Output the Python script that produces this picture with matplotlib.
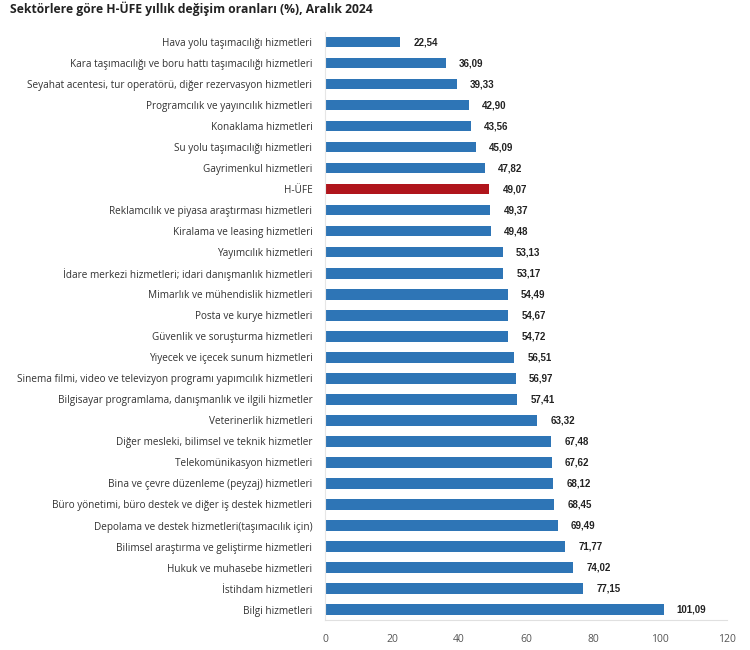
import matplotlib
matplotlib.use("Agg")
import matplotlib.pyplot as plt

categories = [
    "Hava yolu taşımacılığı hizmetleri",
    "Kara taşımacılığı ve boru hattı taşımacılığı hizmetleri",
    "Seyahat acentesi, tur operatörü, diğer rezervasyon hizmetleri",
    "Programcılık ve yayıncılık hizmetleri",
    "Konaklama hizmetleri",
    "Su yolu taşımacılığı hizmetleri",
    "Gayrimenkul hizmetleri",
    "H-ÜFE",
    "Reklamcılık ve piyasa araştırması hizmetleri",
    "Kiralama ve leasing hizmetleri",
    "Yayımcılık hizmetleri",
    "İdare merkezi hizmetleri; idari danışmanlık hizmetleri",
    "Mimarlık ve mühendislik hizmetleri",
    "Posta ve kurye hizmetleri",
    "Güvenlik ve soruşturma hizmetleri",
    "Yiyecek ve içecek sunum hizmetleri",
    "Sinema filmi, video ve televizyon programı yapımcılık hizmetleri",
    "Bilgisayar programlama, danışmanlık ve ilgili hizmetler",
    "Veterinerlik hizmetleri",
    "Diğer mesleki, bilimsel ve teknik hizmetler",
    "Telekomünikasyon hizmetleri",
    "Bina ve çevre düzenleme (peyzaj) hizmetleri",
    "Büro yönetimi, büro destek ve diğer iş destek hizmetleri",
    "Depolama ve destek hizmetleri(taşımacılık için)",
    "Bilimsel araştırma ve geliştirme hizmetleri",
    "Hukuk ve muhasebe hizmetleri",
    "İstihdam hizmetleri",
    "Bilgi hizmetleri",
]
values = [22.54, 36.09, 39.33, 42.90, 43.56, 45.09, 47.82, 49.07, 49.37, 49.48,
          53.13, 53.17, 54.49, 54.67, 54.72, 56.51, 56.97, 57.41, 63.32, 67.48,
          67.62, 68.12, 68.45, 69.49, 71.77, 74.02, 77.15, 101.09]
highlight = "H-ÜFE"
xticks = [0, 20, 40, 60, 80, 100, 120]

plt.rcParams['font.family'] = ['Open Sans', 'DejaVu Sans']

fig = plt.figure(figsize=(7.5, 6.5), dpi=100)
ax = fig.add_axes([0.4333, 0.046, 0.536, 0.9055])

colors = ["#b0151c" if c == highlight else "#2e75b6" for c in categories]
y = list(range(len(categories)))
ax.barh(y, values, height=0.5, color=colors, edgecolor="none")
ax.set_ylim(len(categories) - 0.5, -0.5)
ax.set_xlim(0, 120)
ax.set_xticks(xticks)
ax.set_xticklabels([str(t) for t in xticks])
ax.set_yticks(y)
ax.set_yticklabels(categories)

for yi, v in zip(y, values):
    ax.annotate(f"{v:.2f}".replace(".", ","), xy=(v, yi), xytext=(9.5, 0),
                textcoords="offset points", va="center", ha="left",
                fontsize=7, fontweight="bold", color="#222222",
                family=["Liberation Sans", "DejaVu Sans"])

ax.tick_params(axis="y", length=0, pad=9, labelsize=7.2, labelcolor="#333333")
ax.tick_params(axis="x", length=0, pad=10, labelsize=7.5, labelcolor="#555555")
for s in ["top", "right"]:
    ax.spines[s].set_visible(False)
ax.spines["left"].set_color("#e6e6e6")
ax.spines["bottom"].set_color("#e0e0e0")

fig.text(0.013, 0.997, "Sektörlere göre H-ÜFE yıllık değişim oranları (%), Aralık 2024",
         ha="left", va="top", fontsize=8.7, fontweight="bold", color="#222222")

fig.savefig("out.png", dpi=100)
